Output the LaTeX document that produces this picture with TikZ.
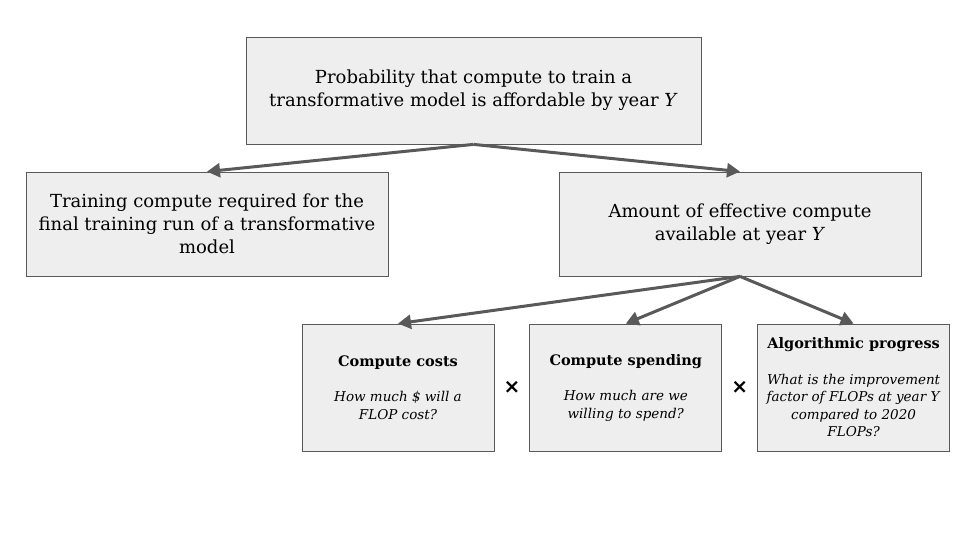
\documentclass[tikz,border=0pt]{standalone}
\usepackage{fontspec}
\setmainfont{DejaVu Serif}
\setsansfont{DejaVu Sans}
\usetikzlibrary{arrows.meta, positioning, calc}
\definecolor{cBoxFill}{RGB}{238, 238, 238}
\definecolor{cBoxDraw}{RGB}{89, 89, 89}
\definecolor{lineColor}{RGB}{89, 89, 89}
\newcommand{\factorTitle}[1]{{\fontsize{14.5}{17.5}\selectfont\bfseries #1}}
\tikzset{
    x=1pt, y=1pt,
    % --- box styles ---
    baseBlock/.style={
        rectangle, draw=cBoxDraw, fill=cBoxFill, line width=0.8pt,
        align=center, inner sep=0pt
    },
    styleMain/.style={baseBlock, font=\fontsize{18}{23}\selectfont},
    styleFactor/.style={
        baseBlock, minimum width=192pt, minimum height=127pt,
        font=\fontsize{13.5}{17.5}\selectfont
    },
    % --- connectors ---
    conn/.style={
        draw=lineColor, line width=3pt,
        -{Triangle[length=13pt, width=14pt]}
    },
    timesSign/.style={font=\sffamily\bfseries\fontsize{20}{20}\selectfont, inner sep=0pt}
}

\begin{document}
\begin{tikzpicture}

    % canvas
    \path[fill=white] (0,0) rectangle (960,540);
    \useasboundingbox (0,0) rectangle (960,540);

    % =========================================================
    % boxes
    % =========================================================

    \node [styleMain, minimum width=455pt, minimum height=107pt] (affordable) at (473.5,449.5) {
        Probability that compute to train a\\
        transformative model is affordable by year \textit{Y}
    };

    \node [styleMain, minimum width=362pt, minimum height=104pt] (required) at (207,316) {
        Training compute required for the\\
        final training run of a transformative\\
        model
    };

    \node [styleMain, minimum width=362pt, minimum height=104pt] (available) at (740,316) {
        Amount of effective compute\\
        available at year \textit{Y}
    };

    \node [styleFactor] (costs) at (398,152.5) {
        \factorTitle{Compute costs}\\[18pt]
        \textit{How much \$ will a}\\
        \textit{FLOP cost?}
    };

    \node [styleFactor, right=35pt of costs] (spending) {
        \factorTitle{Compute spending}\\[18pt]
        \textit{How much are we}\\
        \textit{willing to spend?}
    };

    \node [styleFactor, right=35pt of spending] (algo) {
        \factorTitle{Algorithmic progress}\\[18pt]
        \textit{What is the improvement}\\
        \textit{factor of FLOPs at year Y}\\
        \textit{compared to 2020}\\
        \textit{FLOPs?}
    };

    % multiplication signs
    \node [timesSign] (timesA) at ($(costs.east)!0.5!(spending.west)$) {×};
    \node [timesSign] (timesB) at ($(spending.east)!0.5!(algo.west)$) {×};

    % =========================================================
    % connectors
    % =========================================================

    \draw [conn] (affordable.south) -- (required.north);
    \draw [conn] (affordable.south) -- (available.north);

    \draw [conn] (available.south) -- (costs.north);
    \draw [conn] (available.south) -- (spending.north);
    \draw [conn] (available.south) -- (algo.north);

\end{tikzpicture}
\end{document}
